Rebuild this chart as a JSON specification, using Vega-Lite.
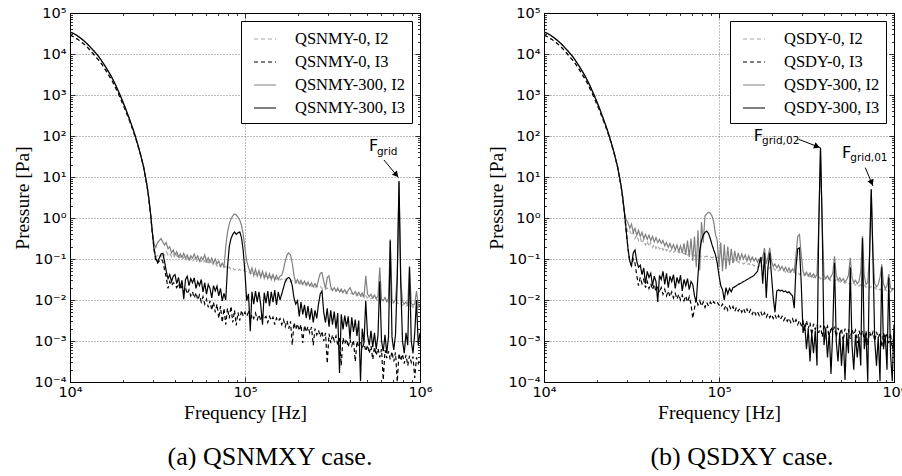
{
"$schema":"https://vega.github.io/schema/vega-lite/v6.json",
"background":"white",
"padding":{"left":11,"top":4,"right":0,"bottom":0},
"bounds":"flush",
"spacing":124,
"config":{
 "view":{"stroke":"#000","strokeWidth":1},
 "axis":{"labelFont":"DejaVu Sans","labelFontSize":14.5,"labelColor":"#000","tickColor":"#000","tickWidth":0.8,"domainColor":"#000","domainWidth":1,"gridColor":"#555","gridDash":[1,2],"gridWidth":0.8,"titleFont":"Liberation Serif, DejaVu Serif, Noto Serif, Times New Roman, serif","titleFontSize":19.5,"titleFontWeight":"normal","titleColor":"#000","labelOverlap":false,"labelFlush":false,"labelBound":false},
 "legend":{"strokeColor":"#000","fillColor":"#fff","cornerRadius":0}
},
"resolve":{"scale":{"x":"independent","y":"independent","color":"independent","strokeDash":"independent"}},
"hconcat":[
{
 "width":350,"height":369,
 "title":{"text":"(a) QSNMXY case.","orient":"bottom","font":"Liberation Serif, DejaVu Serif, Noto Serif, Times New Roman, serif","fontSize":26,"fontWeight":"normal","color":"#000","offset":22,"dx":25},
 "data":{"values":[
{"f":10000,"a":28800,"b":28800,"c":34700,"d":34700},
{"f":10470,"a":26300,"b":26300,"c":31600,"d":31600},
{"f":10960,"a":23400,"b":23400,"c":28200,"d":28200},
{"f":11480,"a":20400,"b":20400,"c":24500,"d":24500},
{"f":12020,"a":17400,"b":17400,"c":20900,"d":20900},
{"f":12590,"a":14500,"b":14500,"c":17400,"d":17400},
{"f":13180,"a":11700,"b":11700,"c":14100,"d":14100},
{"f":13800,"a":9330,"b":9330,"c":11500,"d":11500},
{"f":14450,"a":7410,"b":7410,"c":9120,"d":9120},
{"f":15140,"a":5750,"b":5750,"c":6920,"d":6920},
{"f":15850,"a":4270,"b":4270,"c":5130,"d":5130},
{"f":16600,"a":3090,"b":3090,"c":3720,"d":3720},
{"f":17380,"a":2240,"b":2240,"c":2630,"d":2630},
{"f":18200,"a":1510,"b":1510,"c":1780,"d":1780},
{"f":19050,"a":1000,"b":1000,"c":1150,"d":1150},
{"f":19950,"a":631,"b":631,"c":724,"d":724},
{"f":20890,"a":389,"b":389,"c":437,"d":437},
{"f":21880,"a":234,"b":234,"c":257,"d":257},
{"f":22910,"a":138,"b":138,"c":148,"d":148},
{"f":23990,"a":75.9,"b":75.9,"c":79.4,"d":79.4},
{"f":25120,"a":38.9,"b":38.9,"c":39.8,"d":39.8},
{"f":26300,"a":17.8,"b":17.8,"c":18.2,"d":18.2},
{"f":27540,"a":6.17,"b":6.17,"c":6.31,"d":6.31},
{"f":28180,"a":3.02,"b":3.02,"c":3.16,"d":3.16},
{"f":28840,"a":1.26,"b":1.26,"c":1.32,"d":1.32},
{"f":29510,"a":0.457,"b":0.457,"c":0.479,"d":0.479},
{"f":30200,"a":0.2,"b":0.178,"c":0.24,"d":0.178},
{"f":30900,"a":0.112,"b":0.0891,"c":0.191,"d":0.105},
{"f":31620,"a":0.12,"b":0.0794,"c":0.251,"d":0.0832},
{"f":32360,"a":0.132,"b":0.0891,"c":0.282,"d":0.105},
{"f":33110,"a":0.112,"b":0.1,"c":0.316,"d":0.132},
{"f":33880,"a":0.141,"b":0.0891,"c":0.263,"d":0.138},
{"f":34670,"a":0.12,"b":0.0562,"c":0.219,"d":0.0891},
{"f":35480,"a":0.151,"b":0.0355,"c":0.251,"d":0.0501},
{"f":36310,"a":0.126,"b":0.0191,"c":0.178,"d":0.0331},
{"f":37150,"a":0.141,"b":0.0282,"c":0.2,"d":0.0417},
{"f":38020,"a":0.112,"b":0.0224,"c":0.141,"d":0.0282},
{"f":38900,"a":0.132,"b":0.0263,"c":0.166,"d":0.038},
{"f":39810,"a":0.105,"b":0.024,"c":0.126,"d":0.0417},
{"f":40740,"a":0.126,"b":0.02,"c":0.151,"d":0.0251},
{"f":41690,"a":0.1,"b":0.0251,"c":0.112,"d":0.0355},
{"f":42660,"a":0.117,"b":0.0178,"c":0.132,"d":0.02},
{"f":43650,"a":0.0955,"b":0.0219,"c":0.11,"d":0.0302},
{"f":44670,"a":0.112,"b":0.0158,"c":0.138,"d":0.0105},
{"f":45710,"a":0.0912,"b":0.02,"c":0.105,"d":0.0316},
{"f":46770,"a":0.107,"b":0.0141,"c":0.126,"d":0.038},
{"f":47860,"a":0.0891,"b":0.0178,"c":0.0955,"d":0.0224},
{"f":48980,"a":0.105,"b":0.0126,"c":0.12,"d":0.0331},
{"f":50120,"a":0.0871,"b":0.0158,"c":0.105,"d":0.0263},
{"f":51290,"a":0.1,"b":0.0112,"c":0.132,"d":0.0347},
{"f":52480,"a":0.0832,"b":0.0151,"c":0.1,"d":0.0191},
{"f":53700,"a":0.0977,"b":0.01,"c":0.12,"d":0.0282},
{"f":54950,"a":0.0813,"b":0.0132,"c":0.0891,"d":0.0224},
{"f":56230,"a":0.0933,"b":0.00891,"c":0.112,"d":0.0316},
{"f":57540,"a":0.0794,"b":0.012,"c":0.0955,"d":0.0158},
{"f":58880,"a":0.0912,"b":0.00794,"c":0.126,"d":0.0263},
{"f":60260,"a":0.0759,"b":0.0105,"c":0.0871,"d":0.0138},
{"f":61660,"a":0.0871,"b":0.00661,"c":0.107,"d":0.024},
{"f":63100,"a":0.0741,"b":0.00955,"c":0.0832,"d":0.0191},
{"f":64570,"a":0.0832,"b":0.00562,"c":0.105,"d":0.0112},
{"f":66070,"a":0.0708,"b":0.00891,"c":0.0794,"d":0.0224},
{"f":67610,"a":0.0794,"b":0.00501,"c":0.1,"d":0.0166},
{"f":69180,"a":0.0676,"b":0.00794,"c":0.0759,"d":0.0219},
{"f":70790,"a":0.0759,"b":0.00355,"c":0.0891,"d":0.0126},
{"f":72440,"a":0.0646,"b":0.00708,"c":0.0661,"d":0.0191},
{"f":74130,"a":0.0708,"b":0.00282,"c":0.0794,"d":0.00955},
{"f":75860,"a":0.0617,"b":0.00631,"c":0.0631,"d":0.0145},
{"f":77620,"a":0.0661,"b":0.00251,"c":0.2,"d":0.01},
{"f":79430,"a":0.0575,"b":0.00631,"c":0.447,"d":0.0631},
{"f":81280,"a":0.0631,"b":0.00355,"c":0.708,"d":0.2},
{"f":83180,"a":0.055,"b":0.00708,"c":0.955,"d":0.316},
{"f":85110,"a":0.0603,"b":0.00282,"c":1.12,"d":0.398},
{"f":87100,"a":0.0537,"b":0.00562,"c":1.26,"d":0.457},
{"f":89130,"a":0.0575,"b":0.0024,"c":1.2,"d":0.398},
{"f":91200,"a":0.0525,"b":0.00501,"c":1.05,"d":0.437},
{"f":93330,"a":0.0562,"b":0.00316,"c":0.891,"d":0.457},
{"f":95500,"a":0.0501,"b":0.00562,"c":0.661,"d":0.331},
{"f":97720,"a":0.0537,"b":0.00398,"c":0.398,"d":0.158},
{"f":100000,"a":0.049,"b":0.00501,"c":0.178,"d":0.0447},
{"f":102300,"a":0.0501,"b":0.00398,"c":0.0891,"d":0.00955},
{"f":104700,"a":0.0447,"b":0.00501,"c":0.0631,"d":0.0141},
{"f":107200,"a":0.0479,"b":0.00316,"c":0.0447,"d":0.00174},
{"f":109600,"a":0.0427,"b":0.00447,"c":0.0603,"d":0.0158},
{"f":112200,"a":0.0457,"b":0.00355,"c":0.0398,"d":0.00794},
{"f":114800,"a":0.0417,"b":0.00479,"c":0.0562,"d":0.0166},
{"f":117500,"a":0.0447,"b":0.00331,"c":0.038,"d":0.00891},
{"f":120200,"a":0.0398,"b":0.00437,"c":0.0525,"d":0.0158},
{"f":123000,"a":0.0427,"b":0.00316,"c":0.0355,"d":0.00759},
{"f":125900,"a":0.038,"b":0.00417,"c":0.0501,"d":0.00251},
{"f":128800,"a":0.0407,"b":0.00355,"c":0.0339,"d":0.0151},
{"f":131800,"a":0.0363,"b":0.00398,"c":0.0468,"d":0.00832},
{"f":134900,"a":0.0389,"b":0.00282,"c":0.0331,"d":0.0166},
{"f":138000,"a":0.0355,"b":0.00398,"c":0.0437,"d":0.00708},
{"f":141300,"a":0.038,"b":0.00316,"c":0.0316,"d":0.0158},
{"f":144500,"a":0.0339,"b":0.0038,"c":0.0417,"d":0.00891},
{"f":147900,"a":0.0363,"b":0.00251,"c":0.0302,"d":0.0174},
{"f":151400,"a":0.0324,"b":0.00363,"c":0.0398,"d":0.00759},
{"f":154900,"a":0.0347,"b":0.00302,"c":0.0316,"d":0.0158},
{"f":158500,"a":0.0309,"b":0.00355,"c":0.038,"d":0.01},
{"f":162200,"a":0.0331,"b":0.00251,"c":0.0398,"d":0.0141},
{"f":166000,"a":0.0295,"b":0.00331,"c":0.0562,"d":0.02},
{"f":169800,"a":0.0324,"b":0.00224,"c":0.0891,"d":0.0282},
{"f":173800,"a":0.0288,"b":0.00316,"c":0.126,"d":0.0331},
{"f":177800,"a":0.0309,"b":0.002,"c":0.141,"d":0.0355},
{"f":182000,"a":0.0275,"b":0.00302,"c":0.126,"d":0.0316},
{"f":186200,"a":0.0295,"b":0.000794,"c":0.0794,"d":0.0224},
{"f":190500,"a":0.0263,"b":0.00282,"c":0.0398,"d":0.0112},
{"f":195000,"a":0.0282,"b":0.00191,"c":0.0263,"d":0.00794},
{"f":199500,"a":0.0251,"b":0.00263,"c":0.0316,"d":0.00955},
{"f":204200,"a":0.0269,"b":0.00178,"c":0.0251,"d":0.00398},
{"f":208900,"a":0.0245,"b":0.00251,"c":0.0302,"d":0.00891},
{"f":213800,"a":0.0263,"b":0.000891,"c":0.024,"d":0.00447},
{"f":218800,"a":0.0234,"b":0.0024,"c":0.0288,"d":0.00759},
{"f":223900,"a":0.0251,"b":0.00166,"c":0.0229,"d":0.00363},
{"f":229100,"a":0.0224,"b":0.00224,"c":0.0275,"d":0.00708},
{"f":234400,"a":0.024,"b":0.00158,"c":0.0219,"d":0.00331},
{"f":239900,"a":0.0214,"b":0.00219,"c":0.0263,"d":0.00631},
{"f":245500,"a":0.0229,"b":0.000794,"c":0.0209,"d":0.00282},
{"f":251200,"a":0.0204,"b":0.002,"c":0.0251,"d":0.00562},
{"f":257000,"a":0.0224,"b":0.00141,"c":0.0209,"d":0.00355},
{"f":263000,"a":0.02,"b":0.00182,"c":0.0316,"d":0.00794},
{"f":269200,"a":0.0214,"b":0.00126,"c":0.0447,"d":0.0141},
{"f":275400,"a":0.0191,"b":0.00174,"c":0.0468,"d":0.0166},
{"f":281800,"a":0.0204,"b":0.001,"c":0.0282,"d":0.00501},
{"f":288400,"a":0.0182,"b":0.00158,"c":0.0191,"d":0.00282},
{"f":295100,"a":0.0195,"b":0.000282,"c":0.0355,"d":0.00631},
{"f":302000,"a":0.0174,"b":0.00151,"c":0.0389,"d":0.00224},
{"f":309000,"a":0.0186,"b":0.000891,"c":0.0209,"d":0.00562},
{"f":316200,"a":0.0166,"b":0.00141,"c":0.0174,"d":0.00251},
{"f":323600,"a":0.0182,"b":0.001,"c":0.02,"d":0.00525},
{"f":331100,"a":0.0162,"b":0.00132,"c":0.0166,"d":0.002},
{"f":338800,"a":0.0174,"b":0.000794,"c":0.0195,"d":0.00479},
{"f":346700,"a":0.0155,"b":0.00126,"c":0.0158,"d":0.000166},
{"f":354800,"a":0.0166,"b":0.000251,"c":0.0186,"d":0.00447},
{"f":363100,"a":0.0148,"b":0.0012,"c":0.0151,"d":0.00191},
{"f":371500,"a":0.0158,"b":0.000832,"c":0.0178,"d":0.00417},
{"f":380200,"a":0.0141,"b":0.00112,"c":0.0148,"d":0.00224},
{"f":389000,"a":0.0151,"b":0.000708,"c":0.0174,"d":0.00398},
{"f":398100,"a":0.0138,"b":0.0011,"c":0.02,"d":0.00112},
{"f":407400,"a":0.0148,"b":0.000759,"c":0.0158,"d":0.0038},
{"f":416900,"a":0.0132,"b":0.00105,"c":0.0138,"d":0.00166},
{"f":426600,"a":0.0141,"b":0.000316,"c":0.0162,"d":0.00331},
{"f":436500,"a":0.0126,"b":0.001,"c":0.0132,"d":0.00132},
{"f":446700,"a":0.0135,"b":0.000708,"c":0.0155,"d":0.00316},
{"f":457100,"a":0.012,"b":0.000955,"c":0.0126,"d":0.000105},
{"f":467700,"a":0.0129,"b":0.000631,"c":0.0148,"d":0.002},
{"f":478600,"a":0.0115,"b":0.000891,"c":0.012,"d":0.000891},
{"f":489800,"a":0.0126,"b":0.000562,"c":0.0389,"d":0.00955},
{"f":501200,"a":0.0112,"b":0.000794,"c":0.0141,"d":0.00141},
{"f":512900,"a":0.012,"b":0.000501,"c":0.012,"d":0.000794},
{"f":524800,"a":0.0107,"b":0.000759,"c":0.0138,"d":0.00178},
{"f":537000,"a":0.0115,"b":0.000355,"c":0.0112,"d":0.000708},
{"f":549500,"a":0.0102,"b":0.000708,"c":0.0132,"d":0.00158},
{"f":562300,"a":0.011,"b":0.000447,"c":0.0107,"d":0.000631},
{"f":575400,"a":0.00977,"b":0.000661,"c":0.0126,"d":0.00141},
{"f":588800,"a":0.0105,"b":0.000398,"c":0.0617,"d":0.0288},
{"f":602600,"a":0.00955,"b":0.000631,"c":0.0105,"d":0.001},
{"f":616600,"a":0.0102,"b":0.000112,"c":0.00955,"d":0.000562},
{"f":631000,"a":0.00912,"b":0.000603,"c":0.0115,"d":0.00141},
{"f":645700,"a":0.00977,"b":0.00038,"c":0.00912,"d":0.000501},
{"f":660700,"a":0.00871,"b":0.000562,"c":0.011,"d":0.00126},
{"f":676100,"a":0.00933,"b":0.000355,"c":0.302,"d":0.282},
{"f":691800,"a":0.00832,"b":0.00055,"c":0.0105,"d":0.00126},
{"f":707900,"a":0.00891,"b":0.000316,"c":0.00871,"d":0.000603},
{"f":724400,"a":0.00794,"b":0.000525,"c":0.01,"d":0.00141},
{"f":741300,"a":0.00871,"b":0.0001,"c":0.0398,"d":0.0316},
{"f":758600,"a":0.00776,"b":0.000501,"c":7.59,"d":7.94},
{"f":776200,"a":0.00832,"b":0.000331,"c":0.0316,"d":0.0251},
{"f":794300,"a":0.00741,"b":0.000479,"c":0.00912,"d":0.001},
{"f":812800,"a":0.00794,"b":0.000282,"c":0.00794,"d":0.000501},
{"f":831800,"a":0.00708,"b":0.000457,"c":0.00891,"d":0.00158},
{"f":851100,"a":0.00759,"b":0.000251,"c":0.00759,"d":0.000794},
{"f":871000,"a":0.00676,"b":0.000437,"c":0.0676,"d":0.0631},
{"f":891300,"a":0.00724,"b":0.000302,"c":0.00832,"d":0.001},
{"f":912000,"a":0.00661,"b":0.000417,"c":0.00741,"d":0.000501},
{"f":933300,"a":0.00708,"b":0.000126,"c":0.00813,"d":0.00158},
{"f":955000,"a":0.00631,"b":0.000398,"c":0.0166,"d":0.01},
{"f":977200,"a":0.00676,"b":0.000282,"c":0.00708,"d":0.000794},
{"f":1000000,"a":0.00603,"b":0.00038,"c":0.00759,"d":0.00158}
 ]},
 "resolve":{"axis":{"x":"independent","y":"independent"}},
 "layer":[
  {"transform":[{"fold":["a","b","c","d"],"as":["s","p"]}],
   "mark":{"type":"line","strokeWidth":1.2,"clip":true},
   "encoding":{
    "x":{"field":"f","type":"quantitative","scale":{"type":"log","domain":[10000,1000000],"nice":false},
     "axis":{"orient":"bottom","values":[10000,20000,30000,40000,50000,60000,70000,80000,90000,100000,200000,300000,400000,500000,600000,700000,800000,900000,1000000],
      "labelExpr":"abs(log(datum.value)/LN10-round(log(datum.value)/LN10))<0.01?'10'+['⁻⁴','⁻³','⁻²','⁻¹','⁰','¹','²','³','⁴','⁵','⁶'][round(log(datum.value)/LN10)+4]:''",
      "grid":true,"gridOpacity":{"condition":{"test":"abs(log(datum.value)/LN10-round(log(datum.value)/LN10))<0.01","value":1},"value":0},
      "tickSize":{"condition":{"test":"abs(log(datum.value)/LN10-round(log(datum.value)/LN10))<0.01","value":-5},"value":-2.5},
      "labelPadding":8,"title":"Frequency [Hz]","titlePadding":2}},
    "y":{"field":"p","type":"quantitative","scale":{"type":"log","domain":[0.0001,100000],"nice":false},
     "axis":{"orient":"left","values":[0.0001,0.0002,0.0003,0.0004,0.0005,0.0006,0.0007,0.0008,0.0009,0.001,0.002,0.003,0.004,0.005,0.006,0.007,0.008,0.009,0.01,0.02,0.03,0.04,0.05,0.06,0.07,0.08,0.09,0.1,0.2,0.3,0.4,0.5,0.6,0.7,0.8,0.9,1,2,3,4,5,6,7,8,9,10,20,30,40,50,60,70,80,90,100,200,300,400,500,600,700,800,900,1000,2000,3000,4000,5000,6000,7000,8000,9000,10000,20000,30000,40000,50000,60000,70000,80000,90000,100000],
      "labelExpr":"abs(log(datum.value)/LN10-round(log(datum.value)/LN10))<0.01?'10'+['⁻⁴','⁻³','⁻²','⁻¹','⁰','¹','²','³','⁴','⁵','⁶'][round(log(datum.value)/LN10)+4]:''",
      "grid":true,"gridOpacity":{"condition":{"test":"abs(log(datum.value)/LN10-round(log(datum.value)/LN10))<0.01","value":1},"value":0},
      "tickSize":{"condition":{"test":"abs(log(datum.value)/LN10-round(log(datum.value)/LN10))<0.01","value":-5},"value":-2.5},
      "labelPadding":9,"title":"Pressure [Pa]","titlePadding":2}},
    "color":{"field":"s","type":"nominal","scale":{"domain":["a","b","c","d"],"range":["#a8a8a8","#000000","#808080","#000000"]},
     "legend":{"title":null,"orient":"top-right","offset":8,"labelExpr":"datum.label=='a'?'QSNMY-0, I2':datum.label=='b'?'QSNMY-0, I3':datum.label=='c'?'QSNMY-300, I2':'QSNMY-300, I3'","labelFont":"Liberation Serif, DejaVu Serif, Noto Serif, Times New Roman, serif","labelFontSize":16.5,"labelColor":"#000","symbolType":"stroke","symbolSize":484,"symbolStrokeWidth":1.2,"symbolOffset":6,"padding":6,"rowPadding":2,"labelOffset":18,"labelLimit":300}},
    "strokeDash":{"field":"s","type":"nominal","scale":{"domain":["a","b","c","d"],"range":[[4,3],[4,3],[1,0],[1,0]]},
     "legend":{"title":null,"orient":"top-right","offset":8,"labelExpr":"datum.label=='a'?'QSNMY-0, I2':datum.label=='b'?'QSNMY-0, I3':datum.label=='c'?'QSNMY-300, I2':'QSNMY-300, I3'","labelFont":"Liberation Serif, DejaVu Serif, Noto Serif, Times New Roman, serif","labelFontSize":16.5,"labelColor":"#000","symbolType":"stroke","symbolSize":484,"symbolStrokeWidth":1.2,"symbolOffset":6,"padding":6,"rowPadding":2,"labelOffset":18,"labelLimit":300}}
   }},
  {"data":{"values":[{"x1":622300,"y1":26.0,"x2":753400,"y2":9.73}]},
   "mark":{"type":"rule","color":"#000","strokeWidth":1},
   "encoding":{
    "x":{"field":"x1","type":"quantitative","scale":{"type":"log","domain":[10000,1000000],"nice":false},
     "axis":{"orient":"top","values":[10000,20000,30000,40000,50000,60000,70000,80000,90000,100000,200000,300000,400000,500000,600000,700000,800000,900000,1000000],"labels":false,"grid":false,"title":null,
      "tickSize":{"condition":{"test":"abs(log(datum.value)/LN10-round(log(datum.value)/LN10))<0.01","value":-5},"value":-2.5}}},
    "y":{"field":"y1","type":"quantitative","scale":{"type":"log","domain":[0.0001,100000],"nice":false},
     "axis":{"orient":"right","values":[0.0001,0.0002,0.0003,0.0004,0.0005,0.0006,0.0007,0.0008,0.0009,0.001,0.002,0.003,0.004,0.005,0.006,0.007,0.008,0.009,0.01,0.02,0.03,0.04,0.05,0.06,0.07,0.08,0.09,0.1,0.2,0.3,0.4,0.5,0.6,0.7,0.8,0.9,1,2,3,4,5,6,7,8,9,10,20,30,40,50,60,70,80,90,100,200,300,400,500,600,700,800,900,1000,2000,3000,4000,5000,6000,7000,8000,9000,10000,20000,30000,40000,50000,60000,70000,80000,90000,100000],"labels":false,"grid":false,"title":null,
      "tickSize":{"condition":{"test":"abs(log(datum.value)/LN10-round(log(datum.value)/LN10))<0.01","value":-5},"value":-2.5}}},
    "x2":{"field":"x2"},"y2":{"field":"y2"}}},
  {"data":{"values":[{"x":726100,"y":11.8}]},
   "mark":{"type":"point","shape":"triangle","filled":true,"color":"#000","size":45,"angle":140,"opacity":1},
   "encoding":{"x":{"field":"x","type":"quantitative","axis":null},"y":{"field":"y","type":"quantitative","axis":null}}},
  {"data":{"values":[{"x":511700,"y":43.1,"t":"F"}]},
   "mark":{"type":"text","align":"left","baseline":"alphabetic","font":"DejaVu Sans","fontSize":16,"color":"#000"},
   "encoding":{"x":{"field":"x","type":"quantitative","axis":null},"y":{"field":"y","type":"quantitative","axis":null},"text":{"field":"t"}}},
  {"data":{"values":[{"x":567500,"y":34.4,"t":"grid"}]},
   "mark":{"type":"text","align":"left","baseline":"alphabetic","font":"DejaVu Sans","fontSize":10.5,"color":"#000"},
   "encoding":{"x":{"field":"x","type":"quantitative","axis":null},"y":{"field":"y","type":"quantitative","axis":null},"text":{"field":"t"}}}
 ]
},
{
 "width":350,"height":369,
 "title":{"text":"(b) QSDXY case.","orient":"bottom","font":"Liberation Serif, DejaVu Serif, Noto Serif, Times New Roman, serif","fontSize":26,"fontWeight":"normal","color":"#000","offset":22,"dx":23},
 "data":{"values":[
{"f":10000,"a":28800,"b":28800,"c":34700,"d":34700},
{"f":10470,"a":26300,"b":26300,"c":31600,"d":31600},
{"f":10960,"a":23400,"b":23400,"c":28200,"d":28200},
{"f":11480,"a":20400,"b":20400,"c":24500,"d":24500},
{"f":12020,"a":17400,"b":17400,"c":20900,"d":20900},
{"f":12590,"a":14500,"b":14500,"c":17400,"d":17400},
{"f":13180,"a":11700,"b":11700,"c":14100,"d":14100},
{"f":13800,"a":9330,"b":9330,"c":11500,"d":11500},
{"f":14450,"a":7410,"b":7410,"c":9120,"d":9120},
{"f":15140,"a":5750,"b":5750,"c":6920,"d":6920},
{"f":15850,"a":4270,"b":4270,"c":5130,"d":5130},
{"f":16600,"a":3090,"b":3090,"c":3720,"d":3720},
{"f":17380,"a":2240,"b":2240,"c":2630,"d":2630},
{"f":18200,"a":1510,"b":1510,"c":1780,"d":1780},
{"f":19050,"a":1000,"b":1000,"c":1150,"d":1150},
{"f":19950,"a":631,"b":631,"c":724,"d":724},
{"f":20890,"a":389,"b":389,"c":437,"d":437},
{"f":21880,"a":234,"b":234,"c":257,"d":257},
{"f":22910,"a":138,"b":138,"c":148,"d":148},
{"f":23990,"a":75.9,"b":75.9,"c":79.4,"d":79.4},
{"f":25120,"a":38.9,"b":38.9,"c":39.8,"d":39.8},
{"f":26300,"a":17.8,"b":17.8,"c":18.2,"d":18.2},
{"f":27540,"a":6.17,"b":6.17,"c":6.31,"d":6.31},
{"f":28180,"a":3.02,"b":3.02,"c":3.16,"d":3.16},
{"f":28840,"a":1.26,"b":1.26,"c":1.32,"d":1.32},
{"f":29510,"a":0.631,"b":0.457,"c":0.891,"d":0.479},
{"f":30200,"a":0.447,"b":0.178,"c":0.759,"d":0.178},
{"f":30900,"a":0.501,"b":0.0891,"c":0.562,"d":0.0891},
{"f":31620,"a":0.38,"b":0.0676,"c":0.708,"d":0.0676},
{"f":32360,"a":0.447,"b":0.1,"c":0.447,"d":0.141},
{"f":33110,"a":0.316,"b":0.0794,"c":0.562,"d":0.166},
{"f":33880,"a":0.38,"b":0.0398,"c":0.38,"d":0.0891},
{"f":34670,"a":0.282,"b":0.0224,"c":0.501,"d":0.0631},
{"f":35480,"a":0.331,"b":0.0355,"c":0.355,"d":0.0708},
{"f":36310,"a":0.24,"b":0.0251,"c":0.447,"d":0.0417},
{"f":37150,"a":0.302,"b":0.0316,"c":0.316,"d":0.0603},
{"f":38020,"a":0.219,"b":0.02,"c":0.398,"d":0.0251},
{"f":38900,"a":0.275,"b":0.0282,"c":0.302,"d":0.0501},
{"f":39810,"a":0.2,"b":0.0191,"c":0.38,"d":0.0355},
{"f":40740,"a":0.251,"b":0.0251,"c":0.282,"d":0.0447},
{"f":41690,"a":0.191,"b":0.0178,"c":0.355,"d":0.0224},
{"f":42660,"a":0.229,"b":0.024,"c":0.263,"d":0.038},
{"f":43650,"a":0.182,"b":0.0158,"c":0.331,"d":0.0282},
{"f":44670,"a":0.214,"b":0.0219,"c":0.251,"d":0.00891},
{"f":45710,"a":0.174,"b":0.0151,"c":0.302,"d":0.0398},
{"f":46770,"a":0.2,"b":0.02,"c":0.24,"d":0.0316},
{"f":47860,"a":0.166,"b":0.0138,"c":0.282,"d":0.0501},
{"f":48980,"a":0.191,"b":0.0182,"c":0.209,"d":0.024},
{"f":50120,"a":0.158,"b":0.0126,"c":0.251,"d":0.0447},
{"f":51290,"a":0.178,"b":0.0166,"c":0.191,"d":0.02},
{"f":52480,"a":0.151,"b":0.012,"c":0.24,"d":0.038},
{"f":53700,"a":0.17,"b":0.0158,"c":0.178,"d":0.0282},
{"f":54950,"a":0.145,"b":0.0112,"c":0.224,"d":0.0417},
{"f":56230,"a":0.162,"b":0.0145,"c":0.166,"d":0.0191},
{"f":57540,"a":0.141,"b":0.0105,"c":0.219,"d":0.0355},
{"f":58880,"a":0.155,"b":0.0138,"c":0.151,"d":0.0251},
{"f":60260,"a":0.135,"b":0.01,"c":0.209,"d":0.0398},
{"f":61660,"a":0.148,"b":0.0132,"c":0.141,"d":0.0166},
{"f":63100,"a":0.132,"b":0.00955,"c":0.24,"d":0.0316},
{"f":64570,"a":0.141,"b":0.0126,"c":0.126,"d":0.0224},
{"f":66070,"a":0.126,"b":0.00891,"c":0.282,"d":0.0331},
{"f":67610,"a":0.135,"b":0.012,"c":0.112,"d":0.0178},
{"f":69180,"a":0.123,"b":0.00794,"c":0.316,"d":0.0282},
{"f":70790,"a":0.132,"b":0.00355,"c":0.0891,"d":0.024},
{"f":72440,"a":0.12,"b":0.00631,"c":0.355,"d":0.0126},
{"f":74130,"a":0.126,"b":0.0105,"c":0.0631,"d":0.00891},
{"f":75860,"a":0.117,"b":0.00759,"c":0.501,"d":0.0398},
{"f":77620,"a":0.123,"b":0.00955,"c":0.0525,"d":0.158},
{"f":79430,"a":0.115,"b":0.00708,"c":0.794,"d":0.282},
{"f":81280,"a":0.12,"b":0.00891,"c":0.251,"d":0.38},
{"f":83180,"a":0.112,"b":0.00661,"c":1.12,"d":0.447},
{"f":85110,"a":0.117,"b":0.00871,"c":1.26,"d":0.479},
{"f":87100,"a":0.11,"b":0.00708,"c":1.38,"d":0.417},
{"f":89130,"a":0.115,"b":0.00891,"c":1.32,"d":0.316},
{"f":91200,"a":0.107,"b":0.00759,"c":1.12,"d":0.224},
{"f":93330,"a":0.112,"b":0.00912,"c":0.794,"d":0.166},
{"f":95500,"a":0.105,"b":0.00794,"c":0.398,"d":0.126},
{"f":97720,"a":0.11,"b":0.00871,"c":0.282,"d":0.0794},
{"f":100000,"a":0.102,"b":0.00759,"c":0.0631,"d":0.0398},
{"f":102300,"a":0.105,"b":0.00661,"c":0.251,"d":0.0224},
{"f":104700,"a":0.0933,"b":0.00794,"c":0.0501,"d":0.0178},
{"f":107200,"a":0.102,"b":0.00603,"c":0.224,"d":0.01},
{"f":109600,"a":0.0912,"b":0.00741,"c":0.0562,"d":0.02},
{"f":112200,"a":0.0977,"b":0.00562,"c":0.2,"d":0.0141},
{"f":114800,"a":0.0871,"b":0.00708,"c":0.0708,"d":0.0191},
{"f":117500,"a":0.0933,"b":0.00575,"c":0.178,"d":0.0158},
{"f":120200,"a":0.0832,"b":0.00692,"c":0.0794,"d":0.02},
{"f":123000,"a":0.0912,"b":0.00525,"c":0.158,"d":0.0209},
{"f":125900,"a":0.0813,"b":0.00661,"c":0.0891,"d":0.0224},
{"f":128800,"a":0.0871,"b":0.00537,"c":0.141,"d":0.024},
{"f":131800,"a":0.0776,"b":0.00631,"c":0.0955,"d":0.0251},
{"f":134900,"a":0.0832,"b":0.00501,"c":0.132,"d":0.0263},
{"f":138000,"a":0.0759,"b":0.00617,"c":0.1,"d":0.0282},
{"f":141300,"a":0.0813,"b":0.00479,"c":0.126,"d":0.0295},
{"f":144500,"a":0.0724,"b":0.00603,"c":0.0891,"d":0.0316},
{"f":147900,"a":0.0776,"b":0.00468,"c":0.12,"d":0.0331},
{"f":151400,"a":0.0692,"b":0.00575,"c":0.0871,"d":0.0355},
{"f":154900,"a":0.0759,"b":0.00447,"c":0.112,"d":0.0372},
{"f":158500,"a":0.0676,"b":0.0055,"c":0.0891,"d":0.0398},
{"f":162200,"a":0.0724,"b":0.00437,"c":0.105,"d":0.0447},
{"f":166000,"a":0.0646,"b":0.00525,"c":0.0832,"d":0.0501},
{"f":169800,"a":0.0692,"b":0.00417,"c":0.1,"d":0.0794},
{"f":173800,"a":0.0631,"b":0.00501,"c":0.0794,"d":0.112},
{"f":177800,"a":0.0676,"b":0.00398,"c":0.112,"d":0.0251},
{"f":182000,"a":0.0603,"b":0.0049,"c":0.186,"d":0.141},
{"f":186200,"a":0.0646,"b":0.0038,"c":0.0759,"d":0.0112},
{"f":190500,"a":0.0575,"b":0.00468,"c":0.112,"d":0.0631},
{"f":195000,"a":0.0617,"b":0.00372,"c":0.186,"d":0.141},
{"f":199500,"a":0.0562,"b":0.00447,"c":0.0891,"d":0.0398},
{"f":204200,"a":0.0603,"b":0.00355,"c":0.0661,"d":0.0112},
{"f":208900,"a":0.0537,"b":0.00437,"c":0.0759,"d":0.00501},
{"f":213800,"a":0.0575,"b":0.00339,"c":0.0603,"d":0.0166},
{"f":218800,"a":0.0513,"b":0.00417,"c":0.0708,"d":0.0178},
{"f":223900,"a":0.0562,"b":0.00331,"c":0.0562,"d":0.0166},
{"f":229100,"a":0.0501,"b":0.00398,"c":0.0661,"d":0.0174},
{"f":234400,"a":0.0537,"b":0.00316,"c":0.0525,"d":0.0158},
{"f":239900,"a":0.0479,"b":0.0038,"c":0.0631,"d":0.0166},
{"f":245500,"a":0.0513,"b":0.00302,"c":0.0501,"d":0.0151},
{"f":251200,"a":0.0468,"b":0.00363,"c":0.0603,"d":0.0158},
{"f":257000,"a":0.0501,"b":0.00282,"c":0.0479,"d":0.0141},
{"f":263000,"a":0.0447,"b":0.00347,"c":0.0575,"d":0.0126},
{"f":269200,"a":0.0479,"b":0.00269,"c":0.0501,"d":0.00631},
{"f":275400,"a":0.0427,"b":0.00331,"c":0.126,"d":0.0631},
{"f":281800,"a":0.0468,"b":0.00251,"c":0.355,"d":0.178},
{"f":288400,"a":0.0417,"b":0.00316,"c":0.398,"d":0.186},
{"f":295100,"a":0.0447,"b":0.0024,"c":0.126,"d":0.0251},
{"f":302000,"a":0.0398,"b":0.00302,"c":0.0501,"d":0.00158},
{"f":309000,"a":0.0427,"b":0.00178,"c":0.0398,"d":0.00251},
{"f":316200,"a":0.038,"b":0.00316,"c":0.0479,"d":0.000631},
{"f":323600,"a":0.0417,"b":0.002,"c":0.038,"d":0.002},
{"f":331100,"a":0.0372,"b":0.00282,"c":0.0457,"d":0.000316},
{"f":338800,"a":0.0398,"b":0.00141,"c":0.0363,"d":0.00158},
{"f":346700,"a":0.0355,"b":0.00263,"c":0.0437,"d":0.000501},
{"f":354800,"a":0.038,"b":0.00191,"c":0.0355,"d":0.00178},
{"f":363100,"a":0.0347,"b":0.00251,"c":0.0417,"d":0.000251},
{"f":371500,"a":0.0372,"b":0.00158,"c":0.631,"d":0.631},
{"f":380200,"a":0.0331,"b":0.0024,"c":51.3,"d":51.3},
{"f":389000,"a":0.0355,"b":0.00126,"c":0.631,"d":0.631},
{"f":398100,"a":0.0316,"b":0.00251,"c":0.0398,"d":0.000794},
{"f":407400,"a":0.0347,"b":0.00178,"c":0.0331,"d":0.002},
{"f":416900,"a":0.0309,"b":0.00229,"c":0.0389,"d":0.000398},
{"f":426600,"a":0.0331,"b":0.00112,"c":0.0316,"d":0.00158},
{"f":436500,"a":0.0295,"b":0.00219,"c":0.0372,"d":0.000158},
{"f":446700,"a":0.0316,"b":0.00166,"c":0.0447,"d":0.00178},
{"f":457100,"a":0.0282,"b":0.00224,"c":0.117,"d":0.0794},
{"f":467700,"a":0.0309,"b":0.00126,"c":0.0398,"d":0.001},
{"f":478600,"a":0.0275,"b":0.00209,"c":0.0302,"d":0.000316},
{"f":489800,"a":0.0295,"b":0.00151,"c":0.0347,"d":0.00158},
{"f":501200,"a":0.0263,"b":0.002,"c":0.0288,"d":0.000251},
{"f":512900,"a":0.0282,"b":0.001,"c":0.0331,"d":0.00126},
{"f":524800,"a":0.0257,"b":0.002,"c":0.0275,"d":0.000112},
{"f":537000,"a":0.0275,"b":0.00141,"c":0.0316,"d":0.00141},
{"f":549500,"a":0.0245,"b":0.00191,"c":0.0398,"d":0.000501},
{"f":562300,"a":0.0263,"b":0.00112,"c":0.107,"d":0.0631},
{"f":575400,"a":0.0234,"b":0.00191,"c":0.0355,"d":0.000794},
{"f":588800,"a":0.0257,"b":0.00141,"c":0.0263,"d":0.0002},
{"f":602600,"a":0.0229,"b":0.00182,"c":0.0302,"d":0.00141},
{"f":616600,"a":0.0245,"b":0.000891,"c":0.0251,"d":0.000398},
{"f":631000,"a":0.0219,"b":0.00178,"c":0.0282,"d":0.00126},
{"f":645700,"a":0.0234,"b":0.00132,"c":0.0501,"d":0.000251},
{"f":660700,"a":0.0214,"b":0.00178,"c":0.363,"d":0.331},
{"f":676100,"a":0.0229,"b":0.00112,"c":0.0398,"d":0.000631},
{"f":691800,"a":0.0204,"b":0.00174,"c":0.024,"d":0.00158},
{"f":707900,"a":0.0219,"b":0.000794,"c":0.0269,"d":0.000105},
{"f":724400,"a":0.0195,"b":0.0017,"c":0.126,"d":0.1},
{"f":741300,"a":0.0214,"b":0.00126,"c":5.01,"d":5.01},
{"f":758600,"a":0.0191,"b":0.00166,"c":0.126,"d":0.1},
{"f":776200,"a":0.0204,"b":0.001,"c":0.0251,"d":0.001},
{"f":794300,"a":0.0182,"b":0.00166,"c":0.0209,"d":0.000251},
{"f":812800,"a":0.0195,"b":0.0012,"c":0.024,"d":0.00126},
{"f":831800,"a":0.0174,"b":0.00162,"c":0.0355,"d":0.000105},
{"f":851100,"a":0.0191,"b":0.000708,"c":0.0741,"d":0.0631},
{"f":871000,"a":0.017,"b":0.00158,"c":0.0251,"d":0.000631},
{"f":891300,"a":0.0182,"b":0.00112,"c":0.0191,"d":0.00141},
{"f":912000,"a":0.0162,"b":0.00158,"c":0.0219,"d":0.0002},
{"f":933300,"a":0.0174,"b":0.000891,"c":0.0427,"d":0.0355},
{"f":955000,"a":0.0158,"b":0.00155,"c":0.02,"d":0.000501},
{"f":977200,"a":0.017,"b":0.000631,"c":0.0174,"d":0.000105},
{"f":1000000,"a":0.0151,"b":0.00151,"c":0.0191,"d":0.00251}
 ]},
 "resolve":{"axis":{"x":"independent","y":"independent"}},
 "layer":[
  {"transform":[{"fold":["a","b","c","d"],"as":["s","p"]}],
   "mark":{"type":"line","strokeWidth":1.2,"clip":true},
   "encoding":{
    "x":{"field":"f","type":"quantitative","scale":{"type":"log","domain":[10000,1000000],"nice":false},
     "axis":{"orient":"bottom","values":[10000,20000,30000,40000,50000,60000,70000,80000,90000,100000,200000,300000,400000,500000,600000,700000,800000,900000,1000000],
      "labelExpr":"abs(log(datum.value)/LN10-round(log(datum.value)/LN10))<0.01?'10'+['⁻⁴','⁻³','⁻²','⁻¹','⁰','¹','²','³','⁴','⁵','⁶'][round(log(datum.value)/LN10)+4]:''",
      "grid":true,"gridOpacity":{"condition":{"test":"abs(log(datum.value)/LN10-round(log(datum.value)/LN10))<0.01","value":1},"value":0},
      "tickSize":{"condition":{"test":"abs(log(datum.value)/LN10-round(log(datum.value)/LN10))<0.01","value":-5},"value":-2.5},
      "labelPadding":8,"title":"Frequency [Hz]","titlePadding":2}},
    "y":{"field":"p","type":"quantitative","scale":{"type":"log","domain":[0.0001,100000],"nice":false},
     "axis":{"orient":"left","values":[0.0001,0.0002,0.0003,0.0004,0.0005,0.0006,0.0007,0.0008,0.0009,0.001,0.002,0.003,0.004,0.005,0.006,0.007,0.008,0.009,0.01,0.02,0.03,0.04,0.05,0.06,0.07,0.08,0.09,0.1,0.2,0.3,0.4,0.5,0.6,0.7,0.8,0.9,1,2,3,4,5,6,7,8,9,10,20,30,40,50,60,70,80,90,100,200,300,400,500,600,700,800,900,1000,2000,3000,4000,5000,6000,7000,8000,9000,10000,20000,30000,40000,50000,60000,70000,80000,90000,100000],
      "labelExpr":"abs(log(datum.value)/LN10-round(log(datum.value)/LN10))<0.01?'10'+['⁻⁴','⁻³','⁻²','⁻¹','⁰','¹','²','³','⁴','⁵','⁶'][round(log(datum.value)/LN10)+4]:''",
      "grid":true,"gridOpacity":{"condition":{"test":"abs(log(datum.value)/LN10-round(log(datum.value)/LN10))<0.01","value":1},"value":0},
      "tickSize":{"condition":{"test":"abs(log(datum.value)/LN10-round(log(datum.value)/LN10))<0.01","value":-5},"value":-2.5},
      "labelPadding":9,"title":"Pressure [Pa]","titlePadding":2}},
    "color":{"field":"s","type":"nominal","scale":{"domain":["a","b","c","d"],"range":["#a8a8a8","#000000","#808080","#000000"]},
     "legend":{"title":null,"orient":"top-right","offset":8,"labelExpr":"datum.label=='a'?'QSDY-0, I2':datum.label=='b'?'QSDY-0, I3':datum.label=='c'?'QSDY-300, I2':'QSDY-300, I3'","labelFont":"Liberation Serif, DejaVu Serif, Noto Serif, Times New Roman, serif","labelFontSize":16.5,"labelColor":"#000","symbolType":"stroke","symbolSize":484,"symbolStrokeWidth":1.2,"symbolOffset":6,"padding":6,"rowPadding":2,"labelOffset":18,"labelLimit":300}},
    "strokeDash":{"field":"s","type":"nominal","scale":{"domain":["a","b","c","d"],"range":[[4,3],[4,3],[1,0],[1,0]]},
     "legend":{"title":null,"orient":"top-right","offset":8,"labelExpr":"datum.label=='a'?'QSDY-0, I2':datum.label=='b'?'QSDY-0, I3':datum.label=='c'?'QSDY-300, I2':'QSDY-300, I3'","labelFont":"Liberation Serif, DejaVu Serif, Noto Serif, Times New Roman, serif","labelFontSize":16.5,"labelColor":"#000","symbolType":"stroke","symbolSize":484,"symbolStrokeWidth":1.2,"symbolOffset":6,"padding":6,"rowPadding":2,"labelOffset":18,"labelLimit":300}}
   }},
  {"data":{"values":[{"x1":285100,"y1":83.0,"x2":379700,"y2":51.9},{"x1":685500,"y1":16.9,"x2":758600,"y2":6.03}]},
   "mark":{"type":"rule","color":"#000","strokeWidth":1},
   "encoding":{
    "x":{"field":"x1","type":"quantitative","scale":{"type":"log","domain":[10000,1000000],"nice":false},
     "axis":{"orient":"top","values":[10000,20000,30000,40000,50000,60000,70000,80000,90000,100000,200000,300000,400000,500000,600000,700000,800000,900000,1000000],"labels":false,"grid":false,"title":null,
      "tickSize":{"condition":{"test":"abs(log(datum.value)/LN10-round(log(datum.value)/LN10))<0.01","value":-5},"value":-2.5}}},
    "y":{"field":"y1","type":"quantitative","scale":{"type":"log","domain":[0.0001,100000],"nice":false},
     "axis":{"orient":"right","values":[0.0001,0.0002,0.0003,0.0004,0.0005,0.0006,0.0007,0.0008,0.0009,0.001,0.002,0.003,0.004,0.005,0.006,0.007,0.008,0.009,0.01,0.02,0.03,0.04,0.05,0.06,0.07,0.08,0.09,0.1,0.2,0.3,0.4,0.5,0.6,0.7,0.8,0.9,1,2,3,4,5,6,7,8,9,10,20,30,40,50,60,70,80,90,100,200,300,400,500,600,700,800,900,1000,2000,3000,4000,5000,6000,7000,8000,9000,10000,20000,30000,40000,50000,60000,70000,80000,90000,100000],"labels":false,"grid":false,"title":null,
      "tickSize":{"condition":{"test":"abs(log(datum.value)/LN10-round(log(datum.value)/LN10))<0.01","value":-5},"value":-2.5}}},
    "x2":{"field":"x2"},"y2":{"field":"y2"}}},
  {"data":{"values":[{"x":358900,"y":56.8}]},
   "mark":{"type":"point","shape":"triangle","filled":true,"color":"#000","size":45,"angle":111,"opacity":1},
   "encoding":{"x":{"field":"x","type":"quantitative","axis":null},"y":{"field":"y","type":"quantitative","axis":null}}},
  {"data":{"values":[{"x":741300,"y":7.62}]},
   "mark":{"type":"point","shape":"triangle","filled":true,"color":"#000","size":45,"angle":157,"opacity":1},
   "encoding":{"x":{"field":"x","type":"quantitative","axis":null},"y":{"field":"y","type":"quantitative","axis":null}}},
  {"data":{"values":[{"x":157800,"y":75.5,"t":"F"},{"x":504500,"y":29.6,"t":"F"}]},
   "mark":{"type":"text","align":"left","baseline":"alphabetic","font":"DejaVu Sans","fontSize":16,"color":"#000"},
   "encoding":{"x":{"field":"x","type":"quantitative","axis":null},"y":{"field":"y","type":"quantitative","axis":null},"text":{"field":"t"}}},
  {"data":{"values":[{"x":176200,"y":64.9,"t":"grid,02"},{"x":562300,"y":24.5,"t":"grid,01"}]},
   "mark":{"type":"text","align":"left","baseline":"alphabetic","font":"DejaVu Sans","fontSize":10.5,"color":"#000"},
   "encoding":{"x":{"field":"x","type":"quantitative","axis":null},"y":{"field":"y","type":"quantitative","axis":null},"text":{"field":"t"}}}
 ]
}
]
}
